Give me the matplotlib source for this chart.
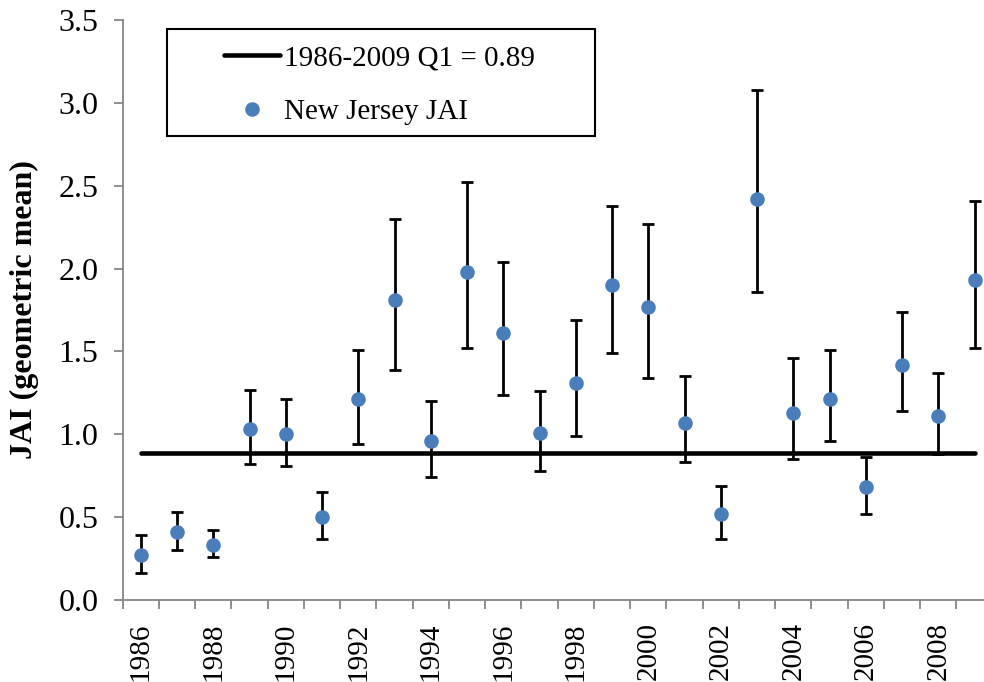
import numpy as np
import matplotlib
matplotlib.use("Agg")
import matplotlib.pyplot as plt
from matplotlib.patches import Rectangle
from matplotlib.ticker import FixedLocator, NullFormatter, FixedFormatter

years = list(range(1986, 2010))
jai = [0.27, 0.41, 0.33, 1.03, 1.00, 0.50, 1.21, 1.81, 0.96, 1.98, 1.61, 1.01,
       1.31, 1.90, 1.77, 1.07, 0.52, 2.42, 1.13, 1.21, 0.68, 1.42, 1.11, 1.93]
upper = [0.39, 0.53, 0.42, 1.27, 1.21, 0.65, 1.51, 2.30, 1.20, 2.52, 2.04, 1.26,
         1.69, 2.38, 2.27, 1.35, 0.69, 3.08, 1.46, 1.51, 0.86, 1.74, 1.37, 2.41]
lower = [0.16, 0.30, 0.26, 0.82, 0.81, 0.37, 0.94, 1.39, 0.74, 1.52, 1.24, 0.78,
         0.99, 1.49, 1.34, 0.83, 0.37, 1.86, 0.85, 0.96, 0.52, 1.14, 0.88, 1.52]
q1 = 0.89
yticks = [0.0, 0.5, 1.0, 1.5, 2.0, 2.5, 3.0, 3.5]

plt.rcParams['font.family'] = ['Liberation Serif', 'DejaVu Serif']

fig = plt.figure(figsize=(9.84, 6.82), dpi=100)
ax = fig.add_axes([122.7/984, 82/682, 870/984, 580/682])

x = np.arange(len(years))
jai = np.array(jai)
err = [jai - np.array(lower), np.array(upper) - jai]

ax.plot([x[0], x[-1]], [q1, q1], color='black', lw=3.3, solid_capstyle='round',
        label='1986-2009 Q1 = 0.89', zorder=2)
ax.errorbar(x, jai, yerr=err, fmt='none', ecolor='black', elinewidth=2,
            capsize=4.5, capthick=2, zorder=3)
ax.plot(x, jai, 'o', color='#4a7ebb', markersize=10.5, markeredgewidth=0,
        label='New Jersey JAI', zorder=4)

ax.set_xlim(-0.5, len(years) - 0.5)
ax.set_ylim(0, 3.5)
ax.set_yticks(yticks)
ax.set_yticklabels(['%.1f' % v for v in yticks])

# boundaries carry tick marks, labels sit at category centres
ax.xaxis.set_major_locator(FixedLocator(np.arange(len(years) + 1) - 0.5))
ax.xaxis.set_major_formatter(NullFormatter())
lab_pos = [i for i in x if years[i] % 2 == 0]
ax.xaxis.set_minor_locator(FixedLocator(lab_pos))
ax.xaxis.set_minor_formatter(FixedFormatter([str(years[i]) for i in lab_pos]))
ax.tick_params(axis='x', which='major', direction='out', length=6.5, width=1.3,
               color='#868686')
ax.tick_params(axis='x', which='minor', length=0, labelsize=21, rotation=90, pad=16)
ax.tick_params(axis='y', direction='out', length=6.5, width=1.3, color='#868686',
               labelsize=23, pad=11)

for s in ['top', 'right']:
    ax.spines[s].set_visible(False)
for s in ['left', 'bottom']:
    ax.spines[s].set_color('#868686')
    ax.spines[s].set_linewidth(1.3)

ax.set_ylabel('JAI (geometric mean)', fontsize=23, fontweight='bold', labelpad=14)

# legend box drawn separately, entries placed inside it
ax.add_patch(Rectangle((44.3/870, 464/580), 428/870, 107/580, transform=ax.transAxes,
                       facecolor='white', edgecolor='black', lw=1.5, zorder=5,
                       clip_on=False))
leg = ax.legend(loc='upper left', bbox_to_anchor=(101.5/870, 555/580), fontsize=21,
                frameon=False, handlelength=1.9, handletextpad=0.15, borderpad=0,
                labelspacing=0.94, borderaxespad=0)
leg.set_zorder(6)

fig.savefig('out.png', dpi=100)
